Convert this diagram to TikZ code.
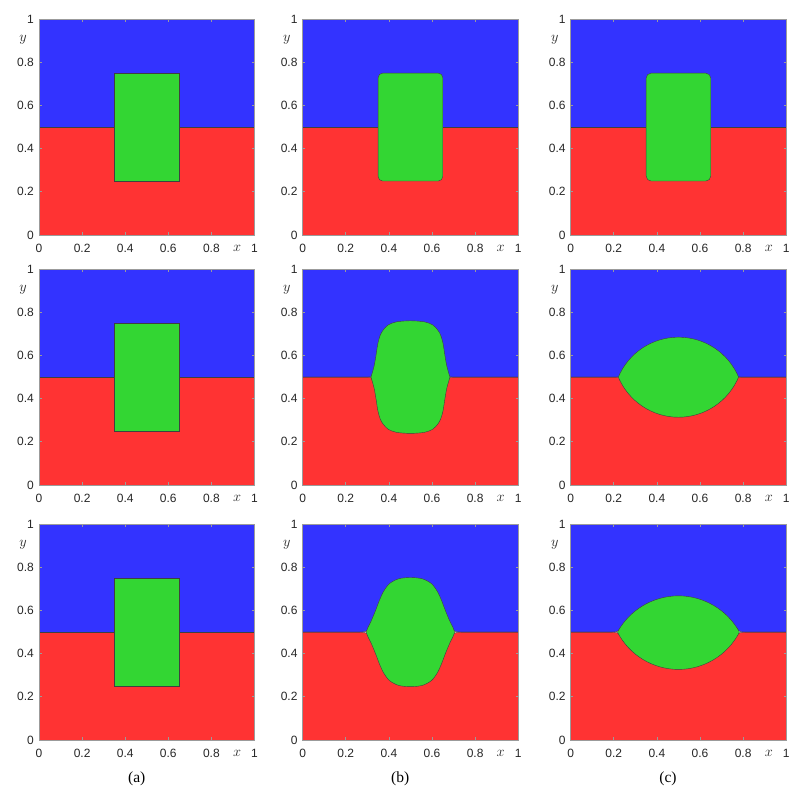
\documentclass[tikz,border=0pt]{standalone}
\usepackage{fontspec}
\setmainfont{Liberation Serif}
\setsansfont{Liberation Sans}
\usepackage{tikz}

\definecolor{phblue}{RGB}{51,51,255}
\definecolor{phred}{RGB}{255,51,51}
\definecolor{phgreen}{RGB}{51,214,51}
\definecolor{framegray}{RGB}{155,155,155}
\definecolor{labgray}{RGB}{38,38,38}

\tikzset{
	panel/.style 2 args={xshift=#1pt, yshift=#2pt, x=215.5pt, y=215.8pt},
	bluephase/.style={fill=phblue},
	redphase/.style={fill=phred},
	greenphase/.style={fill=phgreen, draw=black!75, line width=0.4pt},
	iface/.style={draw=black!75, line width=0.4pt},
	frame/.style={draw=framegray, line width=0.7pt},
	ticklab/.style={font=\sffamily\fontsize{12}{14}\selectfont, text=labgray, inner sep=0pt},
	axlab/.style={font=\fontsize{14.4}{16}\selectfont, text=labgray, inner sep=0pt},
	caption/.style={font=\fontsize{15.5}{18}\selectfont, inner sep=0pt}
}

% flat interface at y=0.5
\newcommand{\flatbands}{%
	\fill[bluephase] (0,0.5) rectangle (1,1);
	\fill[redphase] (0,0) rectangle (1,0.5);
	\draw[iface] (0,0.5) -- (1,0.5);
}

% interface splitting at x=#1, joining the drop at (#3, 0.5 +- #4)
\newcommand{\bands}[4]{%
	\fill[bluephase] (0,1) -- (0,0.5) -- (#1,0.5) .. controls (#2,0.5) and (#3,0.5) .. (#3,{0.5+#4})
		-- ({1-#3},{0.5+#4}) .. controls ({1-#3},0.5) and ({1-#2},0.5) .. ({1-#1},0.5) -- (1,0.5) -- (1,1) -- cycle;
	\fill[redphase] (0,0) -- (0,0.5) -- (#1,0.5) .. controls (#2,0.5) and (#3,0.5) .. (#3,{0.5-#4})
		-- ({1-#3},{0.5-#4}) .. controls ({1-#3},0.5) and ({1-#2},0.5) .. ({1-#1},0.5) -- (1,0.5) -- (1,0) -- cycle;
	\draw[iface] (0,0.5) -- (#1,0.5) .. controls (#2,0.5) and (#3,0.5) .. (#3,{0.5+#4})
		-- ({1-#3},{0.5+#4}) .. controls ({1-#3},0.5) and ({1-#2},0.5) .. ({1-#1},0.5) -- (1,0.5);
	\draw[iface] (0,0.5) -- (#1,0.5) .. controls (#2,0.5) and (#3,0.5) .. (#3,{0.5-#4})
		-- ({1-#3},{0.5-#4}) .. controls ({1-#3},0.5) and ({1-#2},0.5) .. ({1-#1},0.5) -- (1,0.5);
}

\begin{document}
\begin{tikzpicture}[x=1pt, y=1pt]
	\useasboundingbox (0,0) rectangle (802,794);

	% row 1
	\begin{scope}[panel={39}{559}]
		\flatbands
		\filldraw[greenphase] (0.35,0.25) rectangle (0.65,0.75);
	\end{scope}
	\begin{scope}[panel={302.7}{559}]
		\flatbands
		\filldraw[greenphase, rounded corners=4.5pt] (0.35,0.25) rectangle (0.65,0.75);
	\end{scope}
	\begin{scope}[panel={570.7}{559}]
		\flatbands
		\filldraw[greenphase, rounded corners=5pt] (0.35,0.25) rectangle (0.65,0.75);
	\end{scope}

	% row 2
	\begin{scope}[panel={39}{309}]
		\flatbands
		\filldraw[greenphase] (0.35,0.25) rectangle (0.65,0.75);
	\end{scope}
	\begin{scope}[panel={302.7}{309}]
		\bands{0.303}{0.313}{0.322}{0.015}
		\filldraw[greenphase] plot[smooth] coordinates {(0.317,0.5) (0.331,0.55) (0.340,0.6) (0.349,0.657) (0.36,0.695) (0.374,0.719) (0.397,0.742) (0.435,0.756) (0.5,0.761) (0.565,0.756) (0.603,0.742) (0.626,0.719) (0.64,0.695) (0.651,0.657) (0.66,0.6) (0.669,0.55) (0.683,0.5)}
			-- plot[smooth] coordinates {(0.683,0.5) (0.669,0.45) (0.66,0.4) (0.651,0.343) (0.64,0.305) (0.626,0.281) (0.603,0.258) (0.565,0.244) (0.5,0.239) (0.435,0.244) (0.397,0.258) (0.374,0.281) (0.36,0.305) (0.349,0.343) (0.340,0.4) (0.331,0.45) (0.317,0.5)} -- cycle;
	\end{scope}
	\begin{scope}[panel={570.7}{309}]
		\bands{0.21}{0.22}{0.228}{0.015}
		\filldraw[greenphase] (0.221,0.5) .. controls (0.268,0.612) and (0.378,0.685) .. (0.5,0.685)
			.. controls (0.622,0.685) and (0.732,0.612) .. (0.779,0.5)
			.. controls (0.732,0.388) and (0.622,0.314) .. (0.5,0.314)
			.. controls (0.378,0.314) and (0.268,0.388) .. (0.221,0.5) -- cycle;
	\end{scope}

	% row 3
	\begin{scope}[panel={39}{54}]
		\flatbands
		\filldraw[greenphase] (0.35,0.25) rectangle (0.65,0.75);
	\end{scope}
	\begin{scope}[panel={302.7}{54}]
		\bands{0.255}{0.285}{0.308}{0.03}
		\filldraw[greenphase] plot[smooth] coordinates {(0.295,0.5) (0.302,0.52) (0.317,0.55) (0.338,0.6) (0.357,0.65) (0.376,0.69) (0.403,0.725) (0.445,0.747) (0.5,0.753) (0.555,0.747) (0.597,0.725) (0.624,0.69) (0.643,0.65) (0.662,0.6) (0.683,0.55) (0.698,0.52) (0.705,0.5)}
			-- plot[smooth] coordinates {(0.705,0.5) (0.698,0.48) (0.683,0.45) (0.662,0.4) (0.643,0.35) (0.624,0.31) (0.597,0.275) (0.555,0.253) (0.5,0.247) (0.445,0.253) (0.403,0.275) (0.376,0.31) (0.357,0.35) (0.338,0.4) (0.317,0.45) (0.302,0.48) (0.295,0.5)} -- cycle;
	\end{scope}
	\begin{scope}[panel={570.7}{54}]
		\bands{0.175}{0.205}{0.226}{0.017}
		\filldraw[greenphase] (0.217,0.5) .. controls (0.273,0.603) and (0.382,0.668) .. (0.5,0.668)
			.. controls (0.618,0.668) and (0.727,0.603) .. (0.783,0.5)
			.. controls (0.729,0.394) and (0.619,0.327) .. (0.5,0.327)
			.. controls (0.381,0.327) and (0.271,0.394) .. (0.217,0.5) -- cycle;
	\end{scope}

	% axes of all nine panels
	\foreach \X [count=\c] in {39, 302.7, 570.7} {
		\foreach \Y [count=\r] in {559, 309, 54} {
			\begin{scope}[panel={\X}{\Y}]
				\draw[frame] (0,0) rectangle (1,1);
				\foreach \t in {0.2, 0.4, 0.6, 0.8} {
					\draw[frame] (\t,0) -- ++(0,2.5pt);
					\draw[frame] (\t,1) -- ++(0,-2.5pt);
					\draw[frame] (0,\t) -- ++(2.5pt,0);
					\draw[frame] (1,\t) -- ++(-2.5pt,0);
				}
				\foreach \t [count=\k] in {0, 0.2, 0.4, 0.6, 0.8, 1} {
					\node[ticklab, anchor=east, xshift=-5pt] (p\c\r-y\k) at (0,\t) {\t};
					\node[ticklab, yshift=-13pt] (p\c\r-x\k) at (\t,0) {\t};
				}
				\node[axlab, yshift=-13pt] (p\c\r-xl) at (0.919,0) {$x$};
				\node[axlab, xshift=-16pt] (p\c\r-yl) at (0,0.905) {$y$};
			\end{scope}
		}
	}

	\node[caption] (capa) at (136.7,15) {(a)};
	\node[caption] (capb) at (400.2,15) {(b)};
	\node[caption] (capc) at (668,15) {(c)};
\end{tikzpicture}
\end{document}
